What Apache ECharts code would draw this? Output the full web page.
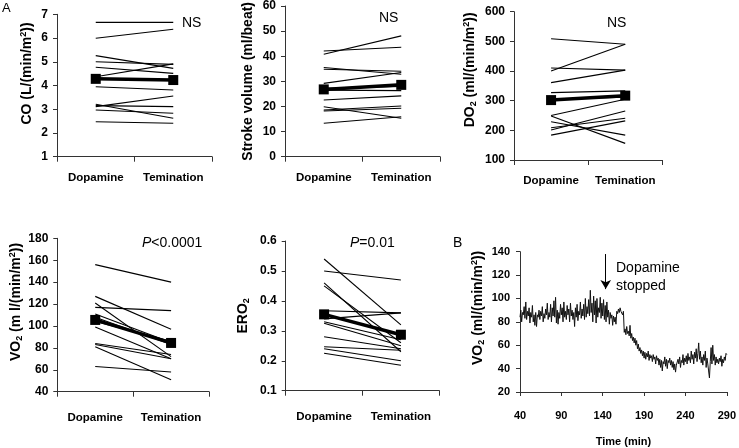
<!DOCTYPE html>
<html>
<head>
<meta charset="utf-8">
<script src="https://cdn.jsdelivr.net/npm/echarts@6/dist/echarts.min.js"></script>
<style>html,body{margin:0;padding:0;background:#fff}#c{width:739px;height:448px}</style>
</head>
<body>
<div id="c"></div>
<script>
// ---------- data ----------
const categories = ['Dopamine', 'Temination'];

const coDopamine    = [6.66, 5.99, 5.26, 5.00, 4.77, 4.37, 3.95, 3.21, 3.11, 3.15, 2.97, 2.47];
const coTermination = [6.66, 6.37, 4.72, 4.89, 4.51, 4.91, 3.81, 2.62, 3.56, 3.11, 2.83, 2.41];
const coMean        = [4.28, 4.23];

const svDopamine    = [40.8, 42.1, 35.5, 34.8, 29.2, 27.2, 26.5, 22.6, 19.9, 18.6, 18.2, 13.3];
const svTermination = [48.1, 43.6, 32.8, 34.0, 33.5, 28.0, 26.3, 24.2, 15.3, 20.2, 19.3, 15.9];
const svMean        = [26.8, 28.6];

const do2Dopamine    = [509, 400, 410, 361, 327, 305, 250, 248, 229, 209, 201, 184];
const do2Termination = [490, 490, 403, 403, 333, 312, 305, 156, 184, 241, 265, 232];
const do2Mean        = [302, 317];

const vo2Dopamine    = [156, 127, 121, 117, 111, 108, 104, 99, 84, 83, 81, 63];
const vo2Termination = [140, 97, 72, 114, 85, 83, 86, 70, 74, 70, 51, 58];
const vo2Mean        = [105.5, 84.5];

const ero2Dopamine    = [0.54, 0.50, 0.46, 0.45, 0.367, 0.34, 0.33, 0.325, 0.28, 0.247, 0.24, 0.225];
const ero2Termination = [0.32, 0.47, 0.23, 0.26, 0.36, 0.36, 0.27, 0.25, 0.24, 0.235, 0.20, 0.185];
const ero2Mean        = [0.355, 0.287];

// Panel B: VO2 trace, one reading per minute from 40 min
const traceStart = 40;
const traceStep = 1;
const vo2Trace = [
  84, 90, 80, 88, 86, 93, 83, 97, 82, 89,
  85, 92, 79, 88, 84, 94, 80, 86, 77, 88,
  76, 86, 84, 90, 82, 89, 85, 93, 80, 87,
  83, 91, 86, 96, 82, 88, 84, 95, 80, 92,
  85, 98, 84, 101, 79, 90, 78, 88, 83, 95,
  86, 92, 80, 97, 84, 89, 82, 94, 86, 91,
  80, 96, 85, 90, 82, 88, 76, 92, 84, 95,
  81, 89, 86, 97, 83, 91, 85, 95, 82, 100,
  84, 93, 87, 99, 85, 107, 88, 96, 80, 102,
  86, 98, 79, 100, 84, 92, 88, 101, 83, 96,
  85, 99, 82, 94, 80, 97, 84, 90, 78, 88,
  83, 86, 77, 85, 80, 84, 78, 89, 87, 91,
  88, 92, 89, 90, 86, 89, 71, 74, 69, 76,
  70, 72, 68, 77, 66, 70, 64, 67, 62, 66,
  60, 64, 57, 61, 55, 58, 53, 56, 51, 55,
  49, 54, 48, 53, 50, 55, 47, 52, 49, 51,
  46, 52, 48, 50, 44, 51, 47, 49, 43, 48,
  41, 47, 38, 46, 44, 50, 42, 48, 40, 47,
  45, 49, 43, 47, 41, 46, 39, 44, 37, 43,
  42, 48, 44, 50, 41, 47, 45, 52, 43, 49,
  46, 51, 44, 53, 47, 50, 45, 55, 48, 52,
  44, 54, 49, 57, 46, 53, 62, 48, 55, 45,
  50, 43, 52, 47, 55, 41, 49, 44, 38, 32,
  46, 58, 44, 60, 47, 52, 43, 50, 45, 48,
  44, 49, 46, 51, 42, 48, 45, 50, 47, 53,
  52
];
const timeTicks = [40, 90, 140, 190, 240, 290];
const arrowTime = 143.6, arrowFrom = 138, arrowTo = 108;

// ---------- styles ----------
const FONT = 'Liberation Sans, Arial, Helvetica, sans-serif';
const richName = {
  sup: { fontSize: 9, fontWeight: 'bold', fontFamily: FONT, color: '#000', verticalAlign: 'top', lineHeight: 16 },
  sub: { fontSize: 9, fontWeight: 'bold', fontFamily: FONT, color: '#000', verticalAlign: 'bottom', lineHeight: 16 }
};

const grids = [
  { left: 57,    top: 14.3,  width: 155,   height: 142.4 },
  { left: 285,   top: 6,     width: 155,   height: 150.7 },
  { left: 514,   top: 11.7,  width: 148.3, height: 148.3 },
  { left: 57.3,  top: 238.3, width: 151.7, height: 153.4 },
  { left: 285.7, top: 241,   width: 153.6, height: 149.7 },
  { left: 520,   top: 251.7, width: 209.3, height: 150.6 }
];

function catX(gi, margin) {
  return {
    gridIndex: gi, type: 'category', data: categories, boundaryGap: true,
    axisLine: { lineStyle: { color: '#333', width: 1 } },
    axisTick: { show: true, length: 5, lineStyle: { color: '#333' } },
    axisLabel: { margin: margin, fontWeight: 'bold', fontSize: 11.5, color: '#000', fontFamily: FONT, interval: 0 }
  };
}
function valY(gi, min, max, interval, name, gap, shift) {
  return {
    gridIndex: gi, type: 'value', min: min, max: max, interval: interval,
    axisLine: { show: true, lineStyle: { color: '#333', width: 1 } },
    axisTick: { show: true, length: 4, lineStyle: { color: '#333' } },
    splitLine: { show: false },
    axisLabel: { margin: 9, fontWeight: 'bold', fontSize: 12, color: '#000', fontFamily: FONT },
    name: name, nameLocation: 'middle', nameGap: gap,
    nameTextStyle: { fontWeight: 'bold', fontSize: 14, color: '#000', fontFamily: FONT,
      lineHeight: 16, padding: [0, 0, 0, shift], rich: richName }
  };
}
function pairSeries(gi, dop, term, mean) {
  const s = dop.map((d, i) => ({
    type: 'line', xAxisIndex: gi, yAxisIndex: gi, data: [d, term[i]],
    symbol: 'none', silent: true, lineStyle: { color: '#000', width: 1.1 }
  }));
  s.push({
    type: 'line', xAxisIndex: gi, yAxisIndex: gi, data: mean, z: 5,
    symbol: 'rect', symbolSize: 10, itemStyle: { color: '#000' },
    lineStyle: { color: '#000', width: 3.5 }
  });
  return s;
}

const traceData = vo2Trace.map((v, i) => [traceStart + i * traceStep, v]);

function txt(x, y, text, size, extra) {
  return { type: 'text', x: x, y: y, silent: true,
    style: Object.assign({ text: text, fontSize: size, fontFamily: FONT, fill: '#000', verticalAlign: 'middle' }, extra || {}) };
}

const option = {
  animation: false,
  backgroundColor: '#fff',
  grid: grids,
  xAxis: [
    catX(0, 15), catX(1, 15), catX(2, 15), catX(3, 20), catX(4, 20),
    {
      gridIndex: 5, type: 'value', min: 40, max: 290,
      axisLine: { lineStyle: { color: '#333', width: 1 } },
      axisTick: { show: true, length: 4, customValues: timeTicks, lineStyle: { color: '#333' } },
      axisLabel: { margin: 18, fontWeight: 'bold', fontSize: 11, color: '#000', fontFamily: FONT, customValues: timeTicks },
      splitLine: { show: false },
      name: 'Time (min)', nameLocation: 'middle', nameGap: 44,
      nameTextStyle: { fontWeight: 'bold', fontSize: 11, color: '#000', fontFamily: FONT }
    }
  ],
  yAxis: [
    valY(0, 1, 7, 1, 'CO (L/(min/m{sup|2}))', 22, 24),
    valY(1, 0, 60, 10, 'Stroke volume (ml/beat)', 29, 0),
    valY(2, 100, 600, 100, 'DO{sub|2} (ml/(min/m{sup|2}))', 36, 32),
    valY(3, 40, 180, 20, 'VO{sub|2} (m l/(min/m{sup|2}))', 31, 26),
    valY(4, 0.1, 0.6, 0.1, 'ERO{sub|2}', 35, 0),
    Object.assign(valY(5, 20, 140, 20, 'VO{sub|2} (ml/(min/m{sup|2}))', 34, 28), {
      axisLabel: { margin: 10, fontWeight: 'bold', fontSize: 11, color: '#000', fontFamily: FONT }
    })
  ],
  series: [].concat(
    pairSeries(0, coDopamine, coTermination, coMean),
    pairSeries(1, svDopamine, svTermination, svMean),
    pairSeries(2, do2Dopamine, do2Termination, do2Mean),
    pairSeries(3, vo2Dopamine, vo2Termination, vo2Mean),
    pairSeries(4, ero2Dopamine, ero2Termination, ero2Mean),
    [{
      type: 'line', xAxisIndex: 5, yAxisIndex: 5, data: traceData,
      symbol: 'none', silent: true, lineStyle: { color: '#111', width: 1 },
      markLine: {
        silent: true, symbol: ['none', 'arrow'], symbolSize: [8, 9],
        lineStyle: { color: '#000', width: 1, type: 'solid' },
        label: { show: false },
        emphasis: { disabled: true },
        data: [[{ coord: [arrowTime, arrowFrom] }, { coord: [arrowTime, arrowTo] }]]
      }
    }]
  ),
  graphic: [
    txt(2, 8, 'A', 13),
    txt(453, 243, 'B', 14),
    txt(182, 23, 'NS', 14),
    txt(379, 18, 'NS', 14),
    txt(607, 23, 'NS', 14),
    txt(142, 243, '{i|P}<0.0001', 14, { rich: { i: { fontStyle: 'italic', fontSize: 14, fontFamily: FONT, fill: '#000' } } }),
    txt(350, 243, '{i|P}=0.01', 14, { rich: { i: { fontStyle: 'italic', fontSize: 14, fontFamily: FONT, fill: '#000' } } }),
    txt(616, 268, 'Dopamine', 14),
    txt(616, 286, 'stopped', 14)
  ]
};

const chart = echarts.init(document.getElementById('c'), null, { renderer: 'canvas' });
chart.setOption(option);
</script>
</body>
</html>
